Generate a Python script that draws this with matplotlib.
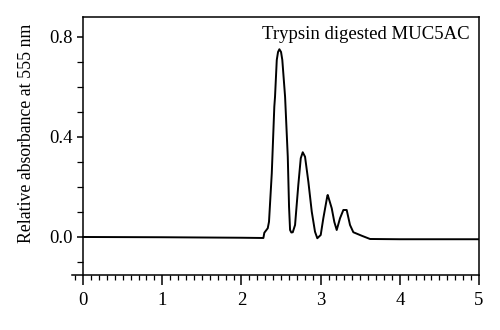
import matplotlib
matplotlib.use("Agg")
import matplotlib.pyplot as plt
from matplotlib.ticker import MultipleLocator

# Elution time vs relative absorbance
x_vals = [0.0, 1.0, 2.0, 2.277, 2.289, 2.332, 2.348, 2.383, 2.415, 2.424, 2.446, 2.462,
          2.479, 2.500, 2.516, 2.551, 2.585, 2.601, 2.614, 2.630, 2.648, 2.677, 2.718,
          2.749, 2.774, 2.803, 2.845, 2.888, 2.929, 2.958, 3.001, 3.034, 3.085, 3.090,
          3.140, 3.173, 3.203, 3.245, 3.287, 3.329, 3.371, 3.413, 3.519, 3.624, 4.0, 5.0]
y_vals = [0.000, -0.001, -0.003, -0.004, 0.017, 0.035, 0.061, 0.255, 0.521, 0.561, 0.708, 0.740,
          0.751, 0.740, 0.708, 0.561, 0.321, 0.121, 0.028, 0.018, 0.019, 0.048, 0.208,
          0.315, 0.339, 0.321, 0.221, 0.101, 0.021, -0.005, 0.008, 0.075, 0.165, 0.168,
          0.115, 0.060, 0.028, 0.075, 0.108, 0.108, 0.048, 0.019, 0.005, -0.008, -0.009, -0.009]

label_text = "Trypsin digested MUC5AC"
y_label = "Relative absorbance at 555 nm"
x_ticks = [0, 1, 2, 3, 4, 5]
y_ticks = [0.0, 0.4, 0.8]

plt.rcParams['font.family'] = ['Liberation Serif', 'DejaVu Serif']

fig = plt.figure(figsize=(5, 3.3), dpi=100)
ax = fig.add_axes([0.144, 0.1667, 0.958 - 0.144, 0.9485 - 0.1667])

ax.plot(x_vals, y_vals, color='black', lw=1.4, solid_joinstyle='round')

ax.set_xlim(-0.14, 5)
ax.set_ylim(-0.152, 0.88)
ax.spines['left'].set_position(('data', 0))
ax.spines['top'].set_bounds(0, 5)
for s in ax.spines.values():
    s.set_linewidth(1.1)

ax.set_xticks(x_ticks)
ax.set_xticklabels([str(t) for t in x_ticks])
ax.set_yticks(y_ticks)
ax.set_yticklabels([f"{t:.1f}" for t in y_ticks])
ax.xaxis.set_minor_locator(MultipleLocator(0.1))
ax.yaxis.set_minor_locator(MultipleLocator(0.1))
ax.tick_params(axis='x', which='major', direction='out', length=7, width=1.1, labelsize=13.5, pad=5)
ax.tick_params(axis='x', which='minor', direction='out', length=3.5, width=0.9)
ax.tick_params(axis='y', which='major', direction='out', length=4.5, width=1.1, labelsize=13.5, pad=3)
ax.tick_params(axis='y', which='minor', direction='out', length=4.5, width=0.9)

ax.set_ylabel(y_label, fontsize=12.8)
ax.yaxis.set_label_coords(-0.09, 0.55)
ax.text(0.978, 0.965, label_text, transform=ax.transAxes, ha='right', va='top', fontsize=13.5)

fig.savefig("out.png", dpi=100)
